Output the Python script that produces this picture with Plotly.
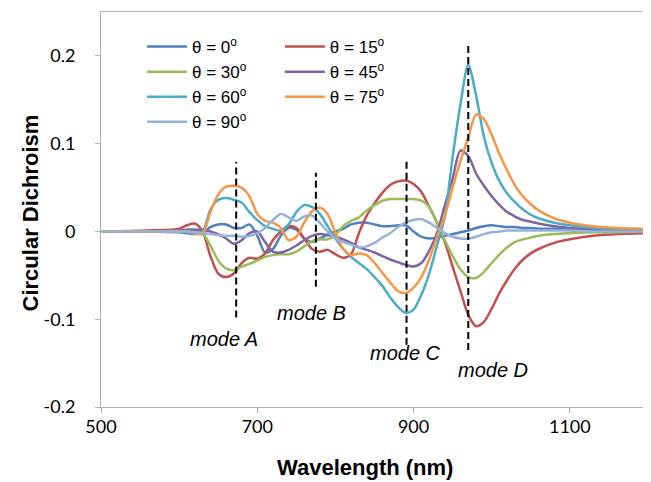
import plotly.graph_objects as go

wavelength = [500, 560, 600, 610, 620, 630, 640, 650, 660, 670,
              680, 690, 700, 710, 720, 730, 740, 750, 760, 770,
              780, 790, 800, 810, 820, 830, 840, 850, 860, 870,
              880, 890, 900, 910, 920, 930, 940, 950, 960, 970,
              980, 990, 1000, 1010, 1020, 1030, 1040, 1050, 1060, 1080,
              1100, 1130, 1160, 1200]

cd_0 = [0, 0, -0.001, -0.002, -0.003, -0.002, 0.005, 0.008, 0.008, 0.004,
        0.004, 0.008, -0.005, -0.024, -0.02, -0.005, 0.004, 0.002, -0.008, -0.012,
        -0.008, -0.004, 0.0, 0.003, 0.008, 0.01, 0.01, 0.008, 0.006, 0.006,
        0.007, 0.007, 0.0, -0.006, -0.008, -0.007, -0.005, -0.003, -0.001, 0.001,
        0.004, 0.006, 0.007, 0.006, 0.005, 0.005, 0.004, 0.004, 0.003, 0.003,
        0.002, 0.001, 0.001, 0.0]
cd_15 = [0, 0.001, 0.003, 0.007, 0.009, 0.0, -0.028, -0.048, -0.052, -0.048,
         -0.036, -0.03, -0.031, -0.025, -0.01, 0.0, 0.006, 0.004, -0.008, -0.02,
         -0.023, -0.021, -0.026, -0.03, -0.026, -0.002, 0.018, 0.032, 0.044, 0.053,
         0.057, 0.058, 0.054, 0.045, 0.028, 0.01, -0.012, -0.04, -0.068, -0.095,
         -0.108, -0.103, -0.088, -0.07, -0.055, -0.042, -0.032, -0.025, -0.02, -0.013,
         -0.009, -0.005, -0.003, -0.002]
cd_30 = [0, 0, 0.001, 0.002, 0.002, -0.002, -0.016, -0.033, -0.042, -0.044,
         -0.04, -0.037, -0.033, -0.029, -0.027, -0.026, -0.026, -0.023, -0.017, -0.011,
         -0.009, -0.009, -0.004, 0.006, 0.012, 0.016, 0.024, 0.03, 0.035, 0.037,
         0.037, 0.037, 0.037, 0.035, 0.028, 0.01, -0.01, -0.028, -0.043, -0.052,
         -0.053, -0.046, -0.036, -0.026, -0.018, -0.012, -0.009, -0.007, -0.005, -0.003,
         -0.002, -0.001, -0.001, 0]
cd_45 = [0, 0, 0.001, 0.002, 0.002, 0.002, 0.0, -0.003, -0.008, -0.014,
         -0.01, -0.002, 0.0, -0.012, -0.023, -0.024, -0.021, -0.016, -0.01, -0.005,
         -0.003, -0.004, -0.006, -0.009, -0.013, -0.018, -0.021, -0.024, -0.028, -0.032,
         -0.035, -0.038, -0.04, -0.036, -0.022, -0.002, 0.03, 0.06, 0.092, 0.086,
         0.066, 0.052, 0.04, 0.03, 0.022, 0.017, 0.013, 0.011, 0.009, 0.006,
         0.004, 0.003, 0.002, 0.001]
cd_60 = [0, 0, 0.0, -0.001, -0.002, 0.0, 0.025, 0.036, 0.038, 0.036,
         0.033, 0.022, 0.013, 0.006, 0.003, 0.001, 0.008, 0.022, 0.03, 0.028,
         0.02, 0.006, -0.008, -0.02, -0.029, -0.036, -0.043, -0.052, -0.062, -0.075,
         -0.086, -0.093, -0.089, -0.072, -0.048, -0.016, 0.017, 0.085, 0.145, 0.19,
         0.155, 0.108, 0.078, 0.057, 0.043, 0.033, 0.025, 0.019, 0.015, 0.01,
         0.007, 0.004, 0.003, 0.002]
cd_75 = [0, 0, 0.0, 0.0, -0.002, -0.003, 0.022, 0.042, 0.051, 0.052,
         0.05, 0.04, 0.02, 0.012, 0.01, 0.004, -0.01, -0.006, 0.01, 0.023,
         0.027, 0.02, -0.002, -0.02, -0.027, -0.025, -0.027, -0.036, -0.047, -0.058,
         -0.068, -0.07, -0.064, -0.052, -0.032, -0.006, 0.018, 0.05, 0.08, 0.107,
         0.133, 0.128, 0.11, 0.088, 0.069, 0.052, 0.04, 0.031, 0.024, 0.015,
         0.01, 0.006, 0.004, 0.003]
cd_90 = [0, 0, 0.0, 0.0, -0.001, -0.002, -0.003, -0.004, -0.005, -0.005,
         -0.006, -0.005, -0.002, 0.004, 0.013, 0.02, 0.016, 0.012, 0.017, 0.018,
         0.01, 0.0, -0.008, -0.012, -0.015, -0.018, -0.017, -0.013, -0.007, -0.002,
         0.005, 0.01, 0.013, 0.014, 0.01, 0.004, -0.002, -0.006, -0.008, -0.008,
         -0.006, -0.003, -0.001, 0.0, 0.001, 0.001, 0.001, 0.001, 0.001, 0.001,
         0.001, 0.0, 0.0, 0.0]

series_names = ["θ = 0<sup>o</sup>", "θ = 15<sup>o</sup>", "θ = 30<sup>o</sup>",
                "θ = 45<sup>o</sup>", "θ = 60<sup>o</sup>", "θ = 75<sup>o</sup>",
                "θ = 90<sup>o</sup>"]
series_values = [cd_0, cd_15, cd_30, cd_45, cd_60, cd_75, cd_90]
series_colors = ["#4F81BD", "#C0504D", "#9BBB59", "#8064A2", "#4BACC6", "#F79646", "#95B3D7"]
series_legend = ["legend", "legend2", "legend", "legend2", "legend", "legend2", "legend"]

mode_labels = ["mode A", "mode B", "mode C", "mode D"]
mode_wavelength = [673, 775, 891, 970]
mode_top = [0.079, 0.067, 0.080, 0.214]
mode_bottom = [-0.098, -0.063, -0.129, -0.135]
label_x = [658, 770, 890, 1002]
label_y = [-0.123, -0.093, -0.138, -0.158]

x_ticks = [500, 700, 900, 1100]
y_ticks = [-0.2, -0.1, 0, 0.1, 0.2]
y_tick_text = ["-0.2", "-0.1", "0", "0.1", "0.2"]

x_title = "Wavelength (nm)"
y_title = "Circular Dichroism"

FONT = "Liberation Sans"
TICKFONT = "Lato"
fig = go.Figure()

for name, vals, col, lg in zip(series_names, series_values, series_colors, series_legend):
    fig.add_trace(go.Scatter(x=wavelength, y=vals, name=name, mode="lines", legend=lg,
                             line=dict(color=col, width=2.5, shape="spline", smoothing=0.8)))

for w, t, b in zip(mode_wavelength, mode_top, mode_bottom):
    fig.add_trace(go.Scatter(x=[w, w], y=[b, t], mode="lines", showlegend=False,
                             hoverinfo="skip",
                             line=dict(color="black", width=2, dash="7px,4px")))

for lab, lx, ly in zip(mode_labels, label_x, label_y):
    fig.add_annotation(x=lx, y=ly, text=lab, showarrow=False,
                       font=dict(family=FONT, size=20, color="black", style="italic"))

# axis titles as annotations for precise placement
fig.add_annotation(x=0.483, y=0, xref="paper", yref="paper", yanchor="middle",
                   yshift=-60, text="<b>" + x_title + "</b>", showarrow=False,
                   font=dict(family=FONT, size=22, color="black"))
fig.add_annotation(x=0, y=0.49, xref="paper", yref="paper", xanchor="center",
                   xshift=-71, text="<b>" + y_title + "</b>", showarrow=False, textangle=-90,
                   font=dict(family=FONT, size=22, color="black"))

axis_common = dict(showgrid=False, zeroline=False, showline=True, linecolor="#B0B0B0",
                   linewidth=1, mirror=True, ticks="outside", tickcolor="#B0B0B0",
                   ticklen=5, automargin=False,
                   tickfont=dict(family=TICKFONT, size=18, color="black"))

fig.update_xaxes(range=[500, 1200], tickvals=x_ticks, ticklabelstandoff=-2, **axis_common)
fig.update_yaxes(range=[-0.2, 0.25], tickvals=y_ticks, ticktext=y_tick_text,
                 ticklabelstandoff=16, **axis_common)

legend_common = dict(orientation="v", xanchor="left", yanchor="top",
                     font=dict(family=FONT, size=17, color="black"),
                     bgcolor="rgba(0,0,0,0)", itemwidth=40, tracegroupgap=0)

fig.update_layout(
    width=643, height=474,
    margin=dict(l=93, r=3, t=4, b=75),
    paper_bgcolor="white", plot_bgcolor="white",
    showlegend=True,
    legend=dict(x=0.075, y=0.957, **legend_common),
    legend2=dict(x=0.327, y=0.957, **legend_common),
)

fig.write_html("out.html")
